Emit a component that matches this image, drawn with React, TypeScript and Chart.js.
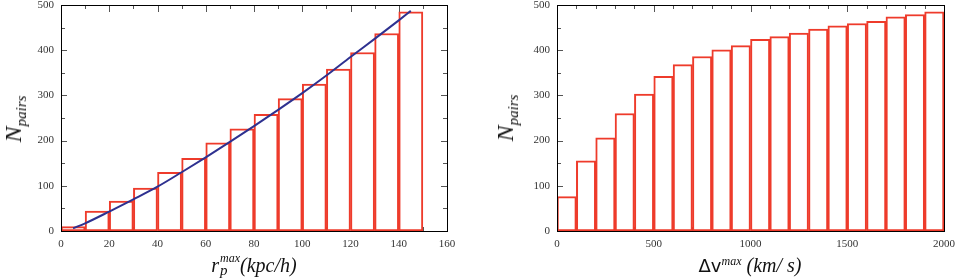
import React, { useEffect, useRef } from "react";
import { Chart, registerables } from "chart.js";

Chart.register(...registerables);

// ---- data ----
const rpBinCenters = [5, 15, 25, 35, 45, 55, 65, 75, 85, 95, 105, 115, 125, 135, 145];
const rpCounts = [10, 44, 66, 95, 130, 161, 195, 226, 258, 293, 325, 358, 395, 437, 485];
const rpFitX = [5, 10, 20, 30, 40, 50, 60, 70, 80, 90, 100, 110, 120, 130, 140, 145];
const rpFitY = [6, 17, 43, 70, 98, 130, 163, 197, 232, 268, 305, 344, 385, 425, 466, 487];
const dvBinCenters = [50, 150, 250, 350, 450, 550, 650, 750, 850, 950, 1050, 1150, 1250, 1350, 1450, 1550, 1650, 1750, 1850, 1950];
const dvCounts = [76, 155, 206, 260, 303, 342, 368, 386, 401, 410, 424, 430, 438, 447, 454, 459, 464, 474, 479, 485];
const rpTickLabels = [0, 20, 40, 60, 80, 100, 120, 140, 160];
const dvTickLabels = [0, 500, 1000, 1500, 2000];
const yTickLabels = [0, 100, 200, 300, 400, 500];

const BAR_RED = "#ee3b2b";
const LINE_BLUE = "#2e3190";
const SERIF = "'Liberation Serif', 'DejaVu Serif', serif";

type PanelCfg = {
  width: number;
  xMax: number;
  xTicks: number[];
  xMinor: number;
  xMajor: number;
  yAxisWidth: number;
  padRight: number;
  centers: number[];
  counts: number[];
  fitX?: number[];
  fitY?: number[];
};

function framePlugin(cfg: PanelCfg) {
  return {
    id: "frameTicks",
    beforeDatasetsDraw(chart: any) {
      const { ctx, chartArea: a, scales } = chart;
      const xs = scales.x;
      const ys = scales.y;
      ctx.save();
      ctx.strokeStyle = "#555";
      ctx.lineWidth = 1;
      ctx.beginPath();
      for (let v = 0; v <= 500; v += 50) {
        const y = Math.round(ys.getPixelForValue(v)) + 0.5;
        const len = v % 100 === 0 ? 6 : 4;
        ctx.moveTo(a.left, y);
        ctx.lineTo(a.left + len, y);
        ctx.moveTo(a.right, y);
        ctx.lineTo(a.right - len, y);
      }
      for (let v = 0; v <= cfg.xMax; v += cfg.xMinor) {
        const x = Math.round(xs.getPixelForValue(v)) + 0.5;
        const len = v % cfg.xMajor === 0 ? 7 : 4;
        ctx.moveTo(x, a.top);
        ctx.lineTo(x, a.top + len);
        ctx.moveTo(x, a.bottom);
        ctx.lineTo(x, a.bottom - len);
      }
      ctx.stroke();
      ctx.restore();
    },
    afterDatasetsDraw(chart: any) {
      const { ctx, chartArea: a } = chart;
      ctx.save();
      ctx.strokeStyle = "#000";
      ctx.lineWidth = 1;
      ctx.strokeRect(Math.round(a.left) + 0.5, Math.round(a.top) + 0.5, Math.round(a.right - a.left), Math.round(a.bottom - a.top));
      ctx.restore();
    },
  };
}

function Panel({ cfg }: { cfg: PanelCfg }) {
  const ref = useRef<HTMLCanvasElement | null>(null);
  useEffect(() => {
    if (!ref.current) return;
    const datasets: any[] = [];
    if (cfg.fitX && cfg.fitY) {
      datasets.push({
        type: "line",
        data: cfg.fitX.map((x, i) => ({ x, y: cfg.fitY![i] })),
        borderColor: LINE_BLUE,
        borderWidth: 2,
        pointRadius: 0,
        fill: false,
        cubicInterpolationMode: "monotone",
        order: 0,
      });
    }
    datasets.push({
      type: "bar",
      data: cfg.centers.map((x, i) => ({ x, y: cfg.counts[i] })),
      backgroundColor: "#ffffff",
      borderColor: BAR_RED,
      borderWidth: 2,
      borderSkipped: false,
      barPercentage: 1,
      categoryPercentage: 1,
      order: 1,
    });
    const tickFont = { family: SERIF, size: 11 };
    const chart = new Chart(ref.current, {
      type: "bar",
      data: { datasets },
      options: {
        animation: false,
        responsive: false,
        layout: { padding: { left: 0, top: 5, right: cfg.padRight, bottom: 0 } },
        plugins: { legend: { display: false }, tooltip: { enabled: false } },
        scales: {
          x: {
            type: "linear",
            min: 0,
            max: cfg.xMax,
            offset: false,
            grid: { display: false, drawTicks: false },
            border: { display: false },
            ticks: {
              padding: 7,
              font: tickFont,
              color: "#333",
              maxRotation: 0,
              autoSkip: false,
              callback: (v: any) => String(v),
            },
            afterBuildTicks: (s: any) => {
              s.ticks = cfg.xTicks.map((v) => ({ value: v }));
            },
            afterFit: (s: any) => {
              s.height = 47;
              s.paddingLeft = 0;
              s.paddingRight = 0;
            },
          },
          y: {
            type: "linear",
            min: 0,
            max: 500,
            grid: { display: false, drawTicks: false },
            border: { display: false },
            ticks: { padding: 7, font: tickFont, color: "#333", callback: (v: any) => String(v) },
            afterBuildTicks: (s: any) => {
              s.ticks = yTickLabels.map((v) => ({ value: v }));
            },
            afterFit: (s: any) => {
              s.width = cfg.yAxisWidth;
              s.paddingTop = 0;
              s.paddingBottom = 0;
            },
          },
        },
      } as any,
      plugins: [framePlugin(cfg)],
    });
    return () => chart.destroy();
  }, [cfg]);
  return <canvas ref={ref} width={cfg.width} height={278} style={{ display: "block" }} />;
}

const leftCfg: PanelCfg = {
  width: 480,
  xMax: 160,
  xTicks: rpTickLabels,
  xMinor: 10,
  xMajor: 20,
  yAxisWidth: 61,
  padRight: 33,
  centers: rpBinCenters,
  counts: rpCounts,
  fitX: rpFitX,
  fitY: rpFitY,
};

const rightCfg: PanelCfg = {
  width: 476,
  xMax: 2000,
  xTicks: dvTickLabels,
  xMinor: 100,
  xMajor: 500,
  yAxisWidth: 77,
  padRight: 12,
  centers: dvBinCenters,
  counts: dvCounts,
};

const titleBase: React.CSSProperties = {
  position: "absolute",
  fontFamily: SERIF,
  fontStyle: "italic",
  color: "#111",
  whiteSpace: "nowrap",
  lineHeight: 1,
};

function YTitle({ x, y }: { x: number; y: number }) {
  return (
    <div
      style={{
        ...titleBase,
        left: x,
        top: y,
        transform: "translate(-50%, -50%) rotate(-90deg)",
      }}
    >
      <span style={{ fontSize: 24 }}>N</span>
      <span style={{ fontSize: 15, position: "relative", top: 5 }}>pairs</span>
    </div>
  );
}

export default function App() {
  return (
    <div style={{ position: "fixed", left: 0, top: 0, width: 956, height: 278, background: "#fff" }}>
      <div style={{ position: "absolute", left: 0, top: 0 }}>
        <Panel cfg={leftCfg} />
      </div>
      <div style={{ position: "absolute", left: 480, top: 0 }}>
        <Panel cfg={rightCfg} />
      </div>
      <YTitle x={13} y={119} />
      <YTitle x={505} y={118} />
      <div
        style={{
          ...titleBase,
          left: 254,
          top: 265,
          transform: "translate(-50%, -50%)",
          display: "flex",
          alignItems: "center",
        }}
      >
        <span style={{ fontSize: 20 }}>r</span>
        <span style={{ display: "inline-flex", flexDirection: "column", alignItems: "flex-start", marginLeft: 1 }}>
          <span style={{ fontSize: 12 }}>max</span>
          <span style={{ fontSize: 15, marginTop: -1 }}>p</span>
        </span>
        <span style={{ fontSize: 20 }}>(kpc/h)</span>
      </div>
      <div
        style={{
          ...titleBase,
          left: 750,
          top: 265,
          transform: "translate(-50%, -50%)",
          display: "flex",
          alignItems: "baseline",
        }}
      >
        <span style={{ fontSize: 18, fontFamily: "'DejaVu Sans', sans-serif", fontStyle: "normal" }}>Δv</span>
        <span style={{ fontSize: 12, position: "relative", top: -7 }}>max</span>
        <span style={{ fontSize: 20 }}>&nbsp;(km/ s)</span>
      </div>
    </div>
  );
}
